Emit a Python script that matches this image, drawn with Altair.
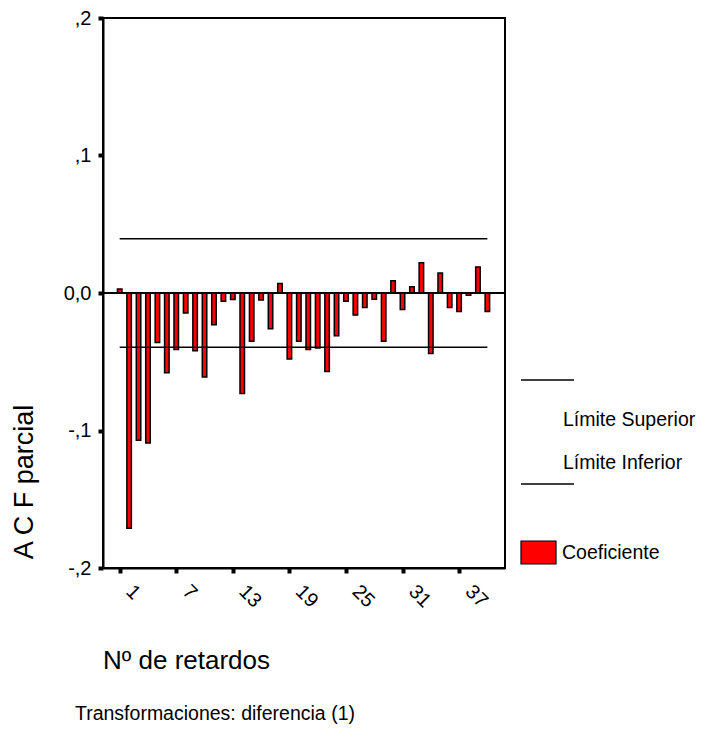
import altair as alt
import pandas as pd

# ---- data ----
lags = list(range(1, 41))
pacf = [0.003, -0.171, -0.107, -0.109, -0.036, -0.058, -0.041, -0.0145, -0.042, -0.061,
        -0.023, -0.006, -0.0047, -0.073, -0.035, -0.005, -0.026, 0.007, -0.048, -0.035,
        -0.041, -0.040, -0.057, -0.031, -0.006, -0.016, -0.0105, -0.0046, -0.035, 0.009,
        -0.012, 0.0046, 0.022, -0.044, 0.0145, -0.0105, -0.0134, -0.0017, 0.019, -0.0134]
limit_names = ["Límite Superior", "Límite Inferior"]
limit_values = [0.0395, -0.0395]
limit_from = [1, 1]
limit_to = [40, 40]
x_tick_values = [1, 7, 13, 19, 25, 31, 37]
y_tick_values = [0.2, 0.1, 0.0, -0.1, -0.2]
y_tick_labels = [",2", ",1", "0,0", "-,1", "-,2"]

FONT = "Liberation Sans"

df = pd.DataFrame({"lag": lags, "pacf": pacf})
df_lim = pd.DataFrame({"name": limit_names, "v": limit_values, "a": limit_from, "b": limit_to})
one = pd.DataFrame({"z": [0]})

W, H = 402, 550
xscale = alt.Scale(domain=[-0.24, 41.34], nice=False, zero=False)
yscale = alt.Scale(domain=[-0.2, 0.2], nice=False)

ylabel_expr = " : ".join(
    f"abs(datum.value - ({v})) < 1e-6 ? '{l}'" for v, l in zip(y_tick_values, y_tick_labels)
) + " : ''"

xaxis = alt.Axis(values=x_tick_values, labelAngle=45, labelAlign="left", labelBaseline="top",
                 labelOffset=16, labelPadding=8, tickSize=5, tickWidth=4, tickColor="black",
                 domainColor="black", domainWidth=2, grid=False, title=None,
                 labelFont=FONT, labelFontSize=20, labelColor="black")
yaxis = alt.Axis(values=y_tick_values, labelExpr=ylabel_expr, tickSize=5, tickWidth=4,
                 tickColor="black", domainColor="black", domainWidth=2, grid=False, title=None,
                 labelFont=FONT, labelFontSize=20, labelColor="black", labelPadding=7)

bars = alt.Chart(df).mark_bar(size=4.5, color="#ff0000", stroke="black", strokeWidth=1.5).encode(
    x=alt.X("lag:Q", scale=xscale, axis=xaxis),
    y=alt.Y("pacf:Q", scale=yscale, axis=yaxis),
    y2=alt.datum(0),
)

zero_line = alt.Chart(one).mark_rule(color="black", strokeWidth=2).encode(
    y=alt.Y("z:Q", scale=yscale)
)

limits = alt.Chart(df_lim).mark_rule(color="black", strokeWidth=1.5).encode(
    x=alt.X("a:Q", scale=xscale),
    x2="b:Q",
    y=alt.Y("v:Q", scale=yscale),
)

def txt(s, x, y, size=19, angle=0, align="left", baseline="middle"):
    return alt.Chart(one).mark_text(font=FONT, fontSize=size, color="black", align=align,
                                    baseline=baseline, angle=angle).encode(
        x=alt.value(x), y=alt.value(y), text=alt.value(s))

leg_line1 = alt.Chart(one).mark_rule(color="black", strokeWidth=1.5).encode(
    x=alt.value(418), x2=alt.value(471), y=alt.value(362))
leg_line2 = alt.Chart(one).mark_rule(color="black", strokeWidth=1.5).encode(
    x=alt.value(418), x2=alt.value(471), y=alt.value(466))
leg_rect = alt.Chart(one).mark_rect(color="#ff0000", stroke="black", strokeWidth=1.2).encode(
    x=alt.value(418), x2=alt.value(453), y=alt.value(523), y2=alt.value(546))

chart = alt.layer(
    bars, zero_line, limits,
    leg_line1, leg_line2, leg_rect,
    txt(limit_names[0], 460, 402, size=19.5),
    txt(limit_names[1], 460, 445, size=19.5),
    txt("Coeficiente", 459, 535, size=19.5),
    txt("A C F parcial", -78, 464, size=27, angle=270, align="center"),
    txt("Nº de retardos", 0, 651, size=26, baseline="alphabetic"),
    txt("Transformaciones: diferencia (1)", -28, 702, size=19.5, baseline="alphabetic"),
).properties(
    width=W, height=H,
    autosize=alt.AutoSizeParams(type="none"),
    padding={"left": 103, "top": 18, "right": 202, "bottom": 161},
    background="white",
).configure_view(stroke="black", strokeWidth=2)

chart.save("out.html", embed_options={"renderer": "svg", "actions": False})
